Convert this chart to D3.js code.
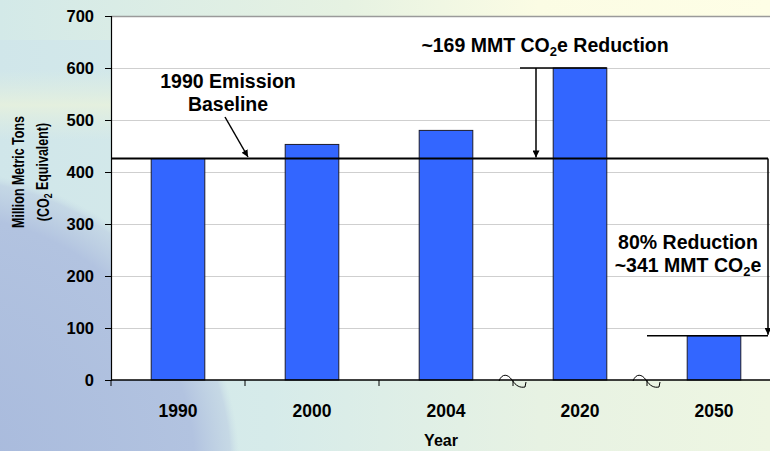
<!DOCTYPE html>
<html><head><meta charset="utf-8">
<script src="https://cdn.jsdelivr.net/npm/d3@7"></script>
<style>
html,body{margin:0;padding:0;overflow:hidden;background:#d8ecea;}
text{font-family:"Liberation Sans",Arial,sans-serif;font-weight:bold;fill:#000;}
</style></head>
<body>
<svg id="c" width="770" height="451"></svg>
<script>
const categories = ["1990","2000","2004","2020","2050"];
const values = [426, 453, 480, 600, 85];
const yTicks = [0,100,200,300,400,500,600,700];
const baselineValue = 426;
const reduction2020 = "~169 MMT CO";
const reduction2050 = ["80% Reduction", "~341 MMT CO"];

(function(){
const W = 770, H = 451;
const svg = d3.select("#c");
const defs = svg.append("defs");

// background gradients
const bg = defs.append("linearGradient").attr("id","bg").attr("x1",0).attr("x2",1).attr("y1",0).attr("y2",0);
[["0","#d0e6ea"],["0.35","#d6ebea"],["0.7","#e7f2e3"],["1","#eef6e2"]].forEach(s=>bg.append("stop").attr("offset",s[0]).attr("stop-color",s[1]));
const topg = defs.append("linearGradient").attr("id","topg").attr("x1",0).attr("x2",1).attr("y1",0).attr("y2",0);
[["0","#d3e9e8",1],["0.45","#e6f2e2",1],["0.7","#fbfce4",1],["1","#fefee6",1]].forEach(s=>topg.append("stop").attr("offset",s[0]).attr("stop-color",s[1]).attr("stop-opacity",s[2]));
const band = defs.append("linearGradient").attr("id","band").attr("x1",0).attr("x2",0).attr("y1",0).attr("y2",1);
[["0","#e2efe0",0],["0.5","#e9f2dc",0.8],["1","#e2efe0",0]].forEach(s=>band.append("stop").attr("offset",s[0]).attr("stop-color",s[1]).attr("stop-opacity",s[2]));
const globe = defs.append("radialGradient").attr("id","globe");
[["0","#a7b9dc",1],["0.85","#b2c3e0",1],["0.97","#bccde2",0.6],["1","#c8dce6",0]].forEach(s=>globe.append("stop").attr("offset",s[0]).attr("stop-color",s[1]).attr("stop-opacity",s[2]));

svg.append("rect").attr("width",W).attr("height",H).attr("fill","url(#bg)");
svg.append("rect").attr("width",W).attr("height",40).attr("fill","url(#topg)");
svg.append("rect").attr("y",70).attr("width",120).attr("height",70).attr("fill","url(#band)");
svg.append("circle").attr("cx",-60).attr("cy",470).attr("r",300).attr("fill","url(#globe)");

const pL = 111, pR = 781, pT = 16, pB = 380;
const x = d3.scaleBand().domain(categories).range([pL,pR]).paddingInner(0.6).paddingOuter(0.3);
const y = d3.scaleLinear().domain([0,700]).range([pB,pT]);

// plot area
svg.append("rect").attr("x",pL).attr("y",pT).attr("width",pR-pL).attr("height",pB-pT).attr("fill","#fff");
svg.append("line").attr("x1",pL).attr("x2",pR).attr("y1",pT+0.5).attr("y2",pT+0.5).attr("stroke","#9a9a9a").attr("stroke-width",1.5);

// gridlines
svg.append("g").selectAll("line").data(yTicks.filter(d=>d>0 && d<700)).join("line")
  .attr("x1",pL).attr("x2",pR).attr("y1",d=>Math.round(y(d))+0.5).attr("y2",d=>Math.round(y(d))+0.5)
  .attr("stroke","#cfcfcf").attr("stroke-width",1);

// bars
svg.append("g").selectAll("rect").data(categories).join("rect")
  .attr("x",d=>x(d)).attr("y",(d,i)=>y(values[i])).attr("width",x.bandwidth())
  .attr("height",(d,i)=>pB-y(values[i]))
  .attr("fill","#3366ff").attr("stroke","#1c1c2c").attr("stroke-width",1);

// y axis
const yAxis = d3.axisLeft(y).tickValues(yTicks).tickSize(6).tickPadding(11);
const gy = svg.append("g").attr("transform",`translate(${pL},0)`).call(yAxis);
gy.select(".domain").attr("stroke","#000").attr("stroke-width",1.2);
gy.selectAll(".tick line").attr("stroke","#000");
gy.selectAll("text").attr("font-size",16.5).attr("font-family","Liberation Sans, Arial, sans-serif").attr("font-weight","bold").attr("fill","#000");

// x axis
const gx = svg.append("g").attr("transform",`translate(0,${pB})`);
gx.append("line").attr("x1",pL).attr("x2",pR).attr("stroke","#000").attr("stroke-width",1.5);
const off = (x.step()-x.bandwidth())/2;
const bounds = categories.map(c=>x(c)-off).concat([x(categories[categories.length-1])+x.bandwidth()+off]);
gx.selectAll("line.t").data(bounds).join("line").attr("class","t")
  .attr("x1",d=>d).attr("x2",d=>d).attr("y1",0).attr("y2",6).attr("stroke","#000");
gx.selectAll("text").data(categories).join("text")
  .attr("x",d=>x(d)+x.bandwidth()/2).attr("y",36.5).attr("text-anchor","middle").attr("font-size",17.5).text(d=>d);

// axis break symbols
[bounds[3], bounds[4]].forEach(bx=>{
  svg.append("path").attr("transform",`translate(${bx},${pB})`)
    .attr("d","M-14,1 C-11,-7 -5,-6 -1,0 C3,6 7,8 12,7 L13,2")
    .attr("fill","none").attr("stroke","#000").attr("stroke-width",1);
});

// axis titles
svg.append("text").attr("x",(pL+pR)/2 - 5).attr("y",446).attr("text-anchor","middle").attr("font-size",16).text("Year");
const yt = svg.append("text").attr("transform","translate(18,172) rotate(-90) scale(0.78,1)").attr("text-anchor","middle").attr("font-size",16);
yt.append("tspan").attr("x",0).attr("dy","0.35em").text("Million Metric Tons");
const yt2 = svg.append("text").attr("transform","translate(43,172) rotate(-90) scale(0.78,1)").attr("text-anchor","middle").attr("font-size",16);
yt2.append("tspan").attr("dy","0.35em").text("(CO");
yt2.append("tspan").attr("font-size",11).attr("dy","0.3em").text("2");
yt2.append("tspan").attr("dy","-0.25em").text(" Equivalent)");

// arrow marker
defs.append("marker").attr("id","ah").attr("viewBox","0 0 10 10").attr("refX",10).attr("refY",5)
  .attr("markerWidth",7).attr("markerHeight",7).attr("markerUnits","userSpaceOnUse").attr("orient","auto")
  .append("path").attr("d","M0,0 L10,5 L0,10 z").attr("fill","#000");

const yb = y(baselineValue);
const xEnd = 768;
// baseline
svg.append("line").attr("x1",pL).attr("x2",xEnd).attr("y1",yb).attr("y2",yb).attr("stroke","#000").attr("stroke-width",2);
svg.append("line").attr("x1",xEnd).attr("x2",xEnd).attr("y1",yb).attr("y2",y(values[4])-1).attr("stroke","#000").attr("stroke-width",1.5).attr("marker-end","url(#ah)");
svg.append("line").attr("x1",647).attr("x2",xEnd).attr("y1",y(values[4])).attr("y2",y(values[4])).attr("stroke","#000").attr("stroke-width",1.5);

// 2020 reduction
const y20 = y(values[3]);
svg.append("line").attr("x1",520).attr("x2",x("2020")+x.bandwidth()).attr("y1",y20).attr("y2",y20).attr("stroke","#000").attr("stroke-width",1.5);
svg.append("line").attr("x1",536).attr("x2",536).attr("y1",y20).attr("y2",yb-1).attr("stroke","#000").attr("stroke-width",1.5).attr("marker-end","url(#ah)");

// baseline annotation arrow
svg.append("line").attr("x1",225).attr("y1",117).attr("x2",248).attr("y2",157).attr("stroke","#000").attr("stroke-width",1.5).attr("marker-end","url(#ah)");

// texts
const fs = 19.5;
svg.append("text").attr("x",228).attr("y",88).attr("text-anchor","middle").attr("font-size",fs).text("1990 Emission");
svg.append("text").attr("x",228).attr("y",111).attr("text-anchor","middle").attr("font-size",fs).text("Baseline");

const t1 = svg.append("text").attr("x",545).attr("y",52).attr("text-anchor","middle").attr("font-size",fs);
t1.append("tspan").text(reduction2020);
t1.append("tspan").attr("font-size",13).attr("dy",4).text("2");
t1.append("tspan").attr("dy",-4).text("e Reduction");

svg.append("text").attr("x",688).attr("y",249).attr("text-anchor","middle").attr("font-size",fs).text(reduction2050[0]);
const t2 = svg.append("text").attr("x",688).attr("y",272).attr("text-anchor","middle").attr("font-size",fs);
t2.append("tspan").text(reduction2050[1]);
t2.append("tspan").attr("font-size",13).attr("dy",4).text("2");
t2.append("tspan").attr("dy",-4).text("e");
})();
</script>
</body></html>
